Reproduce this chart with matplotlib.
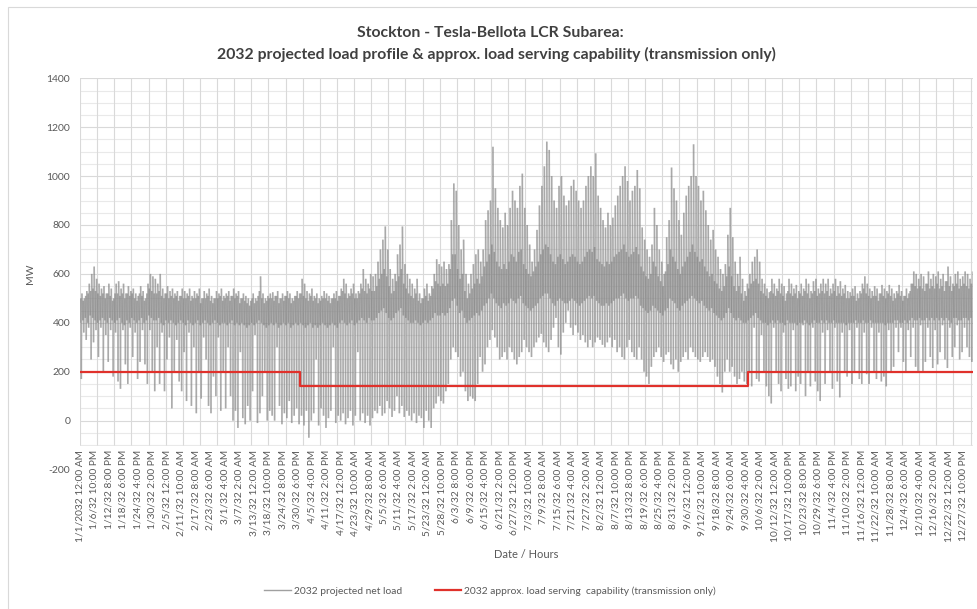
import matplotlib
matplotlib.use("Agg")
import matplotlib.pyplot as plt
import matplotlib.patches as mpatches
from matplotlib.lines import Line2D
from matplotlib.collections import LineCollection
import numpy as np

plt.rcParams['font.family'] = ['Lato', 'DejaVu Sans']

# ---------------- data ----------------
# per day: overnight level, morning shoulder, midday low and evening peak of the projected net load (MW)
night_jan = [400, 410, 420, 400, 430, 420, 410, 400, 410, 420, 410, 400, 420, 410, 400, 410, 420, 400, 390, 410,
             400, 420, 410, 400, 410, 420, 400, 410, 430, 420, 410]
morn_jan = [500, 490, 510, 520, 530, 540, 530, 520, 510, 520, 500, 520, 510, 490, 520, 520, 510, 520, 500, 520,
            510, 520, 500, 490, 520, 510, 490, 520, 540, 530, 520]
low_jan = [170, 360, 330, 380, 250, 320, 370, 260, 380, 200, 350, 240, 370, 180, 360, 160, 130, 370, 230, 150,
           380, 260, 360, 170, 240, 370, 230, 150, 370, 200, 120]
peak_jan = [520, 500, 530, 560, 600, 630, 580, 560, 540, 550, 520, 560, 540, 500, 560, 570, 540, 560, 520, 550,
            530, 540, 520, 510, 550, 530, 500, 560, 600, 590, 580]

night_feb = [410, 420, 400, 390, 410, 400, 410, 400, 390, 400, 410, 400, 390, 410, 400, 390, 400, 410, 390, 400,
             410, 400, 390, 400, 410, 400, 390, 400]
morn_feb = [520, 530, 510, 500, 520, 500, 510, 500, 510, 490, 510, 500, 500, 510, 490, 500, 500, 510, 480, 500,
            500, 510, 490, 480, 500, 500, 510, 490]
low_feb = [300, 150, 360, 120, 250, 340, 50, 200, 330, 160, 120, 280, 80, 360, 60, 300, 30, 200, 90, 340,
           250, 60, 30, 180, 100, 340, 40, 200]
peak_feb = [560, 600, 540, 520, 550, 530, 540, 520, 530, 510, 540, 530, 520, 540, 510, 530, 520, 540, 500, 530,
            520, 540, 510, 500, 530, 520, 540, 510]

night_mar = [400, 390, 400, 410, 390, 400, 390, 400, 390, 380, 390, 400, 390, 400, 410, 400, 390, 380, 390, 400,
             390, 400, 380, 390, 400, 390, 400, 380, 390, 400, 390]
morn_mar = [500, 510, 490, 510, 500, 510, 480, 500, 490, 480, 470, 500, 480, 490, 530, 500, 480, 490, 500, 500,
            490, 510, 480, 500, 490, 510, 500, 480, 490, 510, 500]
low_mar = [50, 300, 100, 0, 40, -30, 280, 10, -15, 60, 0, 120, 350, -10, 30, 100, 200, 0, 40, 20,
           0, 300, 60, -15, 30, 10, 80, -10, 20, 50, -15]
peak_mar = [520, 530, 510, 540, 520, 530, 500, 520, 510, 500, 490, 520, 500, 510, 590, 520, 500, 510, 520, 525,
            510, 530, 500, 520, 510, 530, 520, 500, 510, 530, 520]

night_apr = [400, 390, 380, 390, 400, 380, 390, 380, 390, 400, 390, 380, 390, 400, 390, 380, 400, 410, 400, 390,
             400, 410, 390, 400, 410, 420, 410, 400, 420, 410]
morn_apr = [520, 510, 500, 490, 510, 490, 500, 480, 490, 500, 500, 490, 480, 500, 500, 490, 510, 530, 520, 500,
            510, 520, 500, 500, 520, 540, 530, 520, 540, 530]
low_apr = [20, -20, 40, -70, 0, 30, 250, -20, 50, 20, -30, 10, 40, 300, -10, 20, 0, 30, -15, 10,
           40, -20, 20, 280, 0, 30, -10, 20, -20, 10]
peak_apr = [580, 560, 530, 520, 540, 510, 520, 500, 510, 530, 520, 510, 500, 520, 530, 510, 540, 580, 560, 520,
            540, 560, 520, 530, 560, 620, 580, 560, 600, 590]

night_may = [410, 420, 440, 450, 460, 440, 420, 410, 420, 440, 450, 460, 430, 420, 410, 400, 400, 410, 400, 390,
             400, 410, 400, 410, 420, 440, 430, 430, 440, 430, 440]
morn_may = [530, 550, 580, 600, 620, 590, 550, 520, 530, 570, 590, 620, 560, 540, 520, 510, 500, 520, 490, 480,
            500, 510, 490, 510, 540, 570, 560, 550, 560, 550, 560]
low_may = [40, 30, 60, 20, 30, 80, 50, 15, 40, 100, 30, 60, 15, 40, 20, 0, 30, -10, 20, 10,
           -30, 40, 0, -30, 50, 70, 100, 80, 70, 120, 150]
peak_may = [600, 650, 700, 740, 794, 700, 620, 580, 600, 680, 720, 794, 640, 600, 580, 560, 540, 580, 520, 500,
            540, 560, 520, 550, 600, 660, 640, 630, 650, 620, 640]

night_jun = [460, 490, 500, 470, 440, 450, 420, 400, 410, 420, 430, 440, 430, 450, 470, 480, 500, 520, 500, 480,
             470, 460, 480, 470, 480, 500, 490, 480, 500, 510]
morn_jun = [620, 680, 680, 620, 580, 600, 530, 500, 520, 540, 560, 580, 560, 590, 630, 650, 680, 720, 690, 650,
            630, 620, 640, 620, 650, 680, 670, 650, 690, 700]
low_jun = [250, 300, 280, 260, 180, 200, 120, 80, 100, 90, 80, 150, 260, 200, 230, 300, 330, 370, 340, 300,
           250, 260, 280, 250, 300, 280, 250, 230, 260, 280]
peak_jun = [820, 970, 940, 800, 700, 740, 600, 560, 600, 640, 680, 700, 650, 700, 820, 860, 900, 1120, 950, 870,
            820, 790, 850, 800, 870, 940, 900, 870, 960, 1010]

night_jul = [480, 470, 460, 450, 460, 470, 480, 500, 510, 520, 520, 500, 480, 470, 490, 500, 490, 480, 480, 490,
             500, 490, 480, 470, 480, 490, 500, 510, 500, 510, 490]
morn_jul = [640, 620, 600, 590, 610, 630, 650, 680, 700, 720, 710, 680, 650, 640, 670, 680, 660, 640, 650, 670,
            680, 670, 650, 640, 650, 670, 690, 700, 690, 710, 660]
low_jul = [330, 300, 280, 260, 300, 320, 340, 355, 320, 300, 280, 330, 380, 420, 300, 270, 360, 400, 450, 380,
           350, 390, 360, 330, 350, 320, 300, 330, 300, 320, 340]
peak_jul = [870, 800, 720, 650, 700, 780, 880, 960, 1040, 1141, 1107, 1000, 900, 870, 960, 1000, 920, 880, 900, 960,
            985, 940, 900, 870, 900, 960, 1000, 1040, 1000, 1093, 920]

night_aug = [480, 470, 470, 480, 470, 480, 490, 500, 500, 510, 520, 500, 490, 500, 500, 510, 500, 470, 460, 450,
             440, 450, 470, 460, 450, 440, 430, 450, 460, 500, 490]
morn_aug = [650, 640, 630, 650, 640, 650, 670, 680, 690, 700, 720, 690, 670, 680, 690, 710, 680, 630, 610, 590,
            580, 600, 650, 630, 590, 570, 550, 610, 640, 700, 670]
low_aug = [330, 310, 300, 320, 340, 300, 330, 280, 300, 260, 250, 300, 330, 280, 260, 250, 300, 250, 200, 180,
           150, 220, 260, 280, 300, 260, 240, 270, 280, 230, 210]
peak_aug = [870, 820, 790, 850, 800, 830, 880, 920, 960, 1000, 1040, 980, 900, 940, 960, 1025, 950, 790, 740, 700,
            670, 720, 870, 800, 700, 650, 600, 750, 820, 1035, 950]

night_sep = [480, 460, 450, 470, 480, 490, 500, 510, 500, 490, 480, 490, 470, 460, 450, 460, 440, 430, 420, 410,
             420, 440, 460, 440, 420, 410, 420, 410, 400, 400]
morn_sep = [650, 620, 600, 630, 650, 670, 690, 720, 690, 670, 650, 660, 630, 610, 590, 600, 570, 560, 540, 530,
            550, 590, 630, 590, 550, 530, 550, 520, 490, 510]
low_sep = [250, 200, 240, 260, 280, 250, 300, 280, 260, 250, 240, 260, 280, 260, 240, 250, 220, 180, 150, 115,
           200, 250, 200, 220, 180, 150, 170, 200, 160, 150]
peak_sep = [900, 820, 760, 850, 920, 960, 1000, 1130, 1000, 960, 900, 940, 860, 800, 740, 780, 700, 670, 620, 600,
            640, 760, 870, 750, 650, 600, 670, 580, 530, 560]

night_oct = [410, 420, 430, 440, 420, 410, 400, 400, 390, 400, 410, 400, 410, 400, 400, 390, 410, 400, 400, 400,
             390, 400, 400, 410, 400, 390, 400, 410, 400, 400, 410]
morn_oct = [540, 560, 570, 580, 560, 530, 520, 510, 500, 530, 520, 510, 530, 520, 510, 490, 530, 520, 510, 520,
            500, 520, 510, 530, 520, 500, 520, 530, 510, 520, 530]
low_oct = [200, 140, 380, 170, 160, 350, 200, 140, 100, 70, 380, 200, 150, 120, 360, 170, 130, 140, 370, 120,
           180, 150, 390, 100, 200, 140, 380, 160, 120, 80, 360]
peak_oct = [600, 650, 670, 700, 650, 580, 560, 540, 525, 580, 560, 540, 580, 560, 550, 520, 580, 560, 540, 555,
            530, 560, 540, 580, 560, 530, 570, 580, 540, 560, 580]

night_nov = [400, 410, 400, 400, 410, 400, 400, 400, 400, 390, 400, 400, 400, 410, 400, 400, 410, 400, 400, 410,
             400, 400, 400, 400, 400, 390, 400, 400, 400, 410]
morn_nov = [520, 530, 510, 520, 530, 510, 520, 510, 520, 500, 500, 510, 510, 490, 500, 520, 540, 520, 510, 500,
            510, 510, 490, 520, 510, 500, 520, 510, 490, 500]
low_nov = [150, 370, 200, 130, 380, 160, 95, 360, 200, 180, 370, 150, 200, 380, 170, 150, 360, 190, 150, 380,
           200, 170, 360, 160, 180, 140, 370, 200, 220, 380]
peak_nov = [560, 580, 540, 560, 580, 550, 570, 540, 555, 530, 525, 540, 550, 520, 530, 560, 590, 560, 540, 530,
            550, 540, 520, 555, 540, 530, 555, 540, 520, 530]

night_dec = [410, 400, 400, 410, 400, 410, 420, 410, 410, 420, 410, 410, 420, 410, 420, 410, 420, 410, 420, 410,
             420, 410, 400, 420, 420, 410, 410, 420, 420, 410, 420]
morn_dec = [520, 510, 490, 510, 500, 530, 560, 550, 540, 550, 540, 530, 560, 540, 550, 540, 560, 540, 550, 530,
            570, 550, 530, 550, 560, 540, 550, 560, 550, 540, 560]
low_dec = [280, 380, 240, 200, 370, 260, 380, 220, 200, 390, 200, 240, 380, 260, 215, 370, 230, 280, 390, 250,
           215, 380, 260, 300, 390, 250, 280, 380, 300, 260, 240]
peak_dec = [555, 530, 510, 540, 520, 560, 610, 600, 580, 600, 590, 560, 610, 580, 600, 590, 610, 580, 600, 570,
            630, 590, 560, 600, 610, 580, 590, 610, 600, 580, 610]

# approx. load serving capability (transmission only): hour of year where it changes, MW
cap_hours = [0, 2160, 6552, 8760]
cap_mw = [200, 140, 200, 200]

tick_labels = [
    "1/1/2032 12:00 AM", "1/6/32 10:00 PM", "1/12/32 8:00 PM", "1/18/32 6:00 PM", "1/24/32 4:00 PM",
    "1/30/32 2:00 PM", "2/5/32 12:00 PM", "2/11/32 10:00 AM", "2/17/32 8:00 AM", "2/23/32 6:00 AM",
    "3/1/32 4:00 AM", "3/7/32 2:00 AM", "3/13/32 12:00 AM", "3/18/32 10:00 PM", "3/24/32 8:00 PM",
    "3/30/32 6:00 PM", "4/5/32 4:00 PM", "4/11/32 2:00 PM", "4/17/32 12:00 PM", "4/23/32 10:00 AM",
    "4/29/32 8:00 AM", "5/5/32 6:00 AM", "5/11/32 4:00 AM", "5/17/32 2:00 AM", "5/23/32 12:00 AM",
    "5/28/32 10:00 PM", "6/3/32 8:00 PM", "6/9/32 6:00 PM", "6/15/32 4:00 PM", "6/21/32 2:00 PM",
    "6/27/32 12:00 PM", "7/3/32 10:00 AM", "7/9/32 8:00 AM", "7/15/32 6:00 AM", "7/21/32 4:00 AM",
    "7/27/32 2:00 AM", "8/2/32 12:00 AM", "8/7/32 10:00 PM", "8/13/32 8:00 PM", "8/19/32 6:00 PM",
    "8/25/32 4:00 PM", "8/31/32 2:00 PM", "9/6/32 12:00 PM", "9/12/32 10:00 AM", "9/18/32 8:00 AM",
    "9/24/32 6:00 AM", "9/30/32 4:00 AM", "10/6/32 2:00 AM", "10/12/32 12:00 AM", "10/17/32 10:00 PM",
    "10/23/32 8:00 PM", "10/29/32 6:00 PM", "11/4/32 4:00 PM", "11/10/32 2:00 PM", "11/16/32 12:00 PM",
    "11/22/32 10:00 AM", "11/28/32 8:00 AM", "12/4/32 6:00 AM", "12/10/32 4:00 AM", "12/16/32 2:00 AM",
    "12/22/32 12:00 AM", "12/27/32 10:00 PM"]

# ---------------- assemble ----------------
def year(*months):
    out = []
    for m in months:
        out += m
    return np.array(out, dtype=float)

daily_night = year(night_jan, night_feb, night_mar, night_apr, night_may, night_jun,
                   night_jul, night_aug, night_sep, night_oct, night_nov, night_dec)
daily_morn = year(morn_jan, morn_feb, morn_mar, morn_apr, morn_may, morn_jun,
                  morn_jul, morn_aug, morn_sep, morn_oct, morn_nov, morn_dec)
daily_low = year(low_jan, low_feb, low_mar, low_apr, low_may, low_jun,
                 low_jul, low_aug, low_sep, low_oct, low_nov, low_dec)
daily_peak = year(peak_jan, peak_feb, peak_mar, peak_apr, peak_may, peak_jun,
                  peak_jul, peak_aug, peak_sep, peak_oct, peak_nov, peak_dec)

n_days = len(daily_peak)
day_start = np.arange(n_days) * 24
# hour of day for each daily value: overnight 4h, morning 8h, midday low 13h, evening peak 19h
x_load = np.column_stack([day_start + 4, day_start + 8, day_start + 13, day_start + 19]).ravel()
y_load = np.column_stack([daily_night, daily_morn, daily_low, daily_peak]).ravel()

n_hours = 8760
label_step = 142
grid_step = 168

# ---------------- figure ----------------
W, H = 977, 609
fig = plt.figure(figsize=(W / 100, H / 100), dpi=100)
ax_left, ax_right = 80, 973
ax_top, ax_bottom = 78.3, 469.5
ax = fig.add_axes([ax_left / W, 1 - ax_bottom / H, (ax_right - ax_left) / W, (ax_bottom - ax_top) / H])
ax.set_xlim(0, n_hours)
ax.set_ylim(-200, 1400)

# grid (plot area visible down to -100)
grid_bottom = -100
for v in np.arange(grid_bottom, 1401, 50):
    major = (v % 200 == 0)
    ax.axhline(v, color='#d9d9d9' if major else '#e9e9e9', lw=0.8, zorder=0.5)
ax.vlines(np.arange(0, n_hours, grid_step), grid_bottom, 1400, color='#d9d9d9', lw=0.8, zorder=0.5)
ax.axhspan(-200, grid_bottom - 2, color='white', zorder=0.6, lw=0)

pts = np.column_stack([x_load, y_load])
segs = np.stack([pts[:-1], pts[1:]], axis=1)
lc = LineCollection(segs, colors='#858585', linewidths=1.15, alpha=0.45, zorder=2)
ax.add_collection(lc)
ax.plot(cap_hours, cap_mw, drawstyle='steps-post', color='#e0312b', lw=1.6, zorder=3)

for s in ax.spines.values():
    s.set_visible(False)

ax.set_yticks(np.arange(-200, 1401, 200))
ax.set_yticklabels([str(v) for v in range(-200, 1401, 200)])
ax.tick_params(axis='y', length=0, pad=7, labelsize=7.5, labelcolor='#595959')
ax.set_xticks(np.arange(0, n_hours, label_step))
ax.set_xticklabels(tick_labels, rotation=90)
ax.tick_params(axis='x', length=0, pad=-14, labelsize=7.3, labelcolor='#595959')

ax.set_ylabel('MW', fontsize=7.5, color='#595959', labelpad=8)

fig.text(526 / W, 1 - 555 / H, 'Date / Hours', ha='center', va='center', fontsize=8, color='#595959')
fig.text(490 / W, 1 - 33 / H, 'Stockton - Tesla-Bellota LCR Subarea:', ha='center', va='center',
         fontsize=11.3, fontweight='bold', color='#404040')
fig.text(496 / W, 1 - 54 / H,
         '2032 projected load profile & approx. load serving capability (transmission only)',
         ha='center', va='center', fontsize=11.3, fontweight='bold', color='#404040')

handles = [Line2D([], [], color='#a0a0a0', lw=1.0),
           Line2D([], [], color='#e0312b', lw=1.6)]
fig.legend(handles, ['2032 projected net load',
                     '2032 approx. load serving  capability (transmission only)'],
           loc='center', bbox_to_anchor=(490 / W, 1 - 591 / H), ncol=2, frameon=False,
           fontsize=7.4, handlelength=2.6, handletextpad=0.3, columnspacing=3.2, labelcolor='#595959')

border = mpatches.Rectangle((8 / W, -0.01), 1.0, 1 - 7 / H + 0.01, transform=fig.transFigure,
                            fill=False, edgecolor='#d9d9d9', lw=0.8)
fig.patches.append(border)

fig.savefig('out.png', dpi=100)
